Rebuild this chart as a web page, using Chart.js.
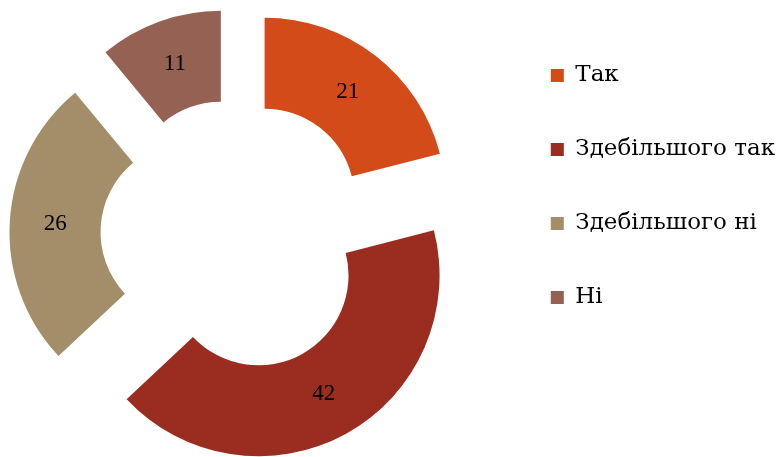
<!DOCTYPE html>
<html>
<head>
<meta charset="utf-8">
<script src="https://cdn.jsdelivr.net/npm/chart.js@4.4.1/dist/chart.umd.min.js"></script>
<style>
  html, body { margin: 0; padding: 0; background: #fff; overflow: hidden; }
  #wrap { width: 776px; height: 457px; position: relative; overflow: hidden; }
  #inner { width: 812px; height: 457px; position: absolute; left: -27px; top: 0; }
</style>
</head>
<body>
<div id="wrap"><div id="inner"><canvas id="chart"></canvas></div></div>
<script>
const labels = ["Так", "Здебільшого так", "Здебільшого ні", "Ні"];
const values = [21, 42, 26, 11];
const colors = ["#D24B19", "#9B2D20", "#A38E69", "#946152"];

const EXPLODE = 46;

// pull every slice out along its middle angle (plain translate, no radius change)
const baseArcDraw = Chart.ArcElement.prototype.draw;
Chart.ArcElement.prototype.draw = function(ctx) {
  const mid = (this.startAngle + this.endAngle) / 2;
  ctx.save();
  ctx.translate(Math.cos(mid) * EXPLODE, Math.sin(mid) * EXPLODE);
  baseArcDraw.call(this, ctx);
  ctx.restore();
};

const sliceLabels = {
  id: "sliceLabels",
  afterDatasetsDraw(chart) {
    const ctx = chart.ctx;
    const meta = chart.getDatasetMeta(0);
    ctx.save();
    ctx.font = "23px 'Liberation Serif'";
    ctx.fillStyle = "#000";
    ctx.textAlign = "center";
    ctx.textBaseline = "middle";
    meta.data.forEach((arc, i) => {
      const mid = (arc.startAngle + arc.endAngle) / 2;
      const r = EXPLODE + (arc.innerRadius + arc.outerRadius) / 2;
      ctx.fillText(String(values[i]), arc.x + Math.cos(mid) * r, arc.y + Math.sin(mid) * r);
    });
    ctx.restore();
  }
};

new Chart(document.getElementById("chart"), {
  type: "doughnut",
  data: {
    labels: labels,
    datasets: [{
      data: values,
      backgroundColor: colors,
      borderWidth: 0,
      clip: false
    }]
  },
  options: {
    responsive: true,
    maintainAspectRatio: false,
    animation: false,
    radius: 181,
    cutout: "49.7%",
    layout: { padding: { left: 0, right: 0, top: 13, bottom: 0 } },
    plugins: {
      tooltip: { enabled: false },
      legend: {
        position: "right",
        align: "start",
        labels: {
          boxWidth: 13,
          boxHeight: 13,
          padding: 51,
          color: "#000",
          font: { family: "'DejaVu Serif'", size: 23 }
        }
      }
    }
  },
  plugins: [sliceLabels]
});
</script>
</body>
</html>
